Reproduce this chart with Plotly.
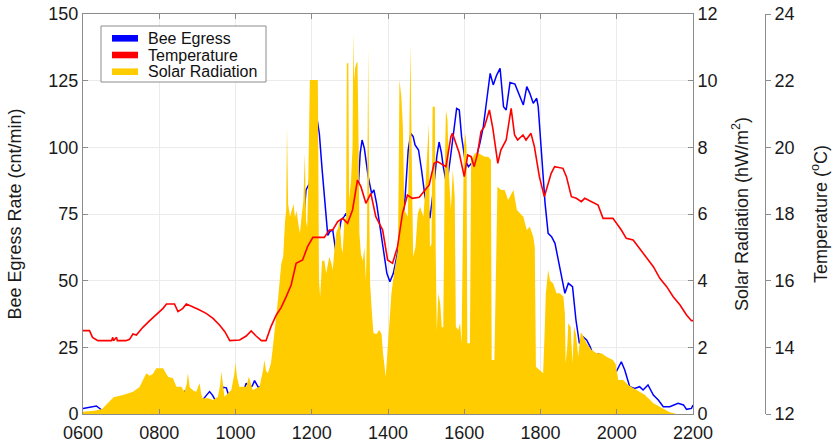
import plotly.graph_objects as go

# ---- data (time in decimal hours) ----
bee_t = [6.00,6.17,6.35,6.52,6.61,6.70,6.79,6.96,7.10,7.22,7.31,7.49,7.60,7.75,7.92,8.01,8.19,8.27,8.40,8.53,
         8.62,8.71,8.80,8.88,8.97,9.02,9.10,9.23,9.32,9.40,9.50,9.60,9.67,9.76,9.85,10.02,10.12,10.20,10.28,10.37,
         10.44,10.50,10.60,10.67,10.80,10.93,11.02,11.12,11.20,11.27,11.33,11.40,11.46,11.52,11.59,11.68,11.76,11.80,11.85,11.94,
         12.03,12.11,12.20,12.27,12.33,12.42,12.48,12.55,12.64,12.70,12.77,12.85,12.90,13.00,13.07,13.12,13.18,13.27,13.32,13.38,
         13.48,13.57,13.63,13.70,13.79,13.88,13.97,14.05,14.14,14.23,14.36,14.45,14.53,14.60,14.66,14.71,14.80,14.88,14.97,15.06,
         15.10,15.19,15.28,15.34,15.40,15.45,15.54,15.63,15.71,15.80,15.87,15.93,16.02,16.11,16.19,16.28,16.41,16.50,16.59,16.68,
         16.76,16.85,16.94,17.03,17.10,17.20,17.33,17.46,17.55,17.64,17.72,17.81,17.90,17.94,18.03,18.12,18.20,18.29,18.38,18.47,
         18.56,18.64,18.73,18.84,18.93,19.02,19.11,19.21,19.30,19.43,19.52,19.65,19.77,19.90,19.99,20.12,20.21,20.34,20.47,20.60,
         20.69,20.82,20.96,21.09,21.22,21.39,21.61,21.75,21.83,21.96,22.00]
bee_v = [2.1,2.6,3.0,1.2,1.0,2.5,4.0,2.5,3.5,4.4,5.2,3.9,4.5,5.4,5.9,5.4,4.4,4.0,5.0,6.0,
         8.0,9.0,8.0,7.5,7.0,3.5,4.5,6.9,8.4,7.0,4.4,7.0,10.0,9.8,5.6,5.6,6.5,8.1,11.5,10.0,
         10.5,12.5,10.0,10.25,13.4,13.0,13.4,11.5,10.9,15.0,24.0,28.0,34.0,45.0,56.5,57.0,65.0,75.0,84.0,86.5,
         105.0,113.4,105.0,92.0,82.75,67.0,68.5,69.0,60.0,67.0,72.75,74.0,75.25,71.5,62.0,68.0,75.0,97.75,102.75,99.6,
         89.0,82.75,84.0,79.0,70.25,60.25,52.75,49.6,52.75,59.0,69.0,81.5,99.0,105.25,104.0,100.9,99.0,91.5,81.5,76.5,
         73.4,84.0,96.5,102.0,98.0,92.75,86.0,95.25,104.0,114.6,114.0,104.0,95.25,92.75,94.0,94.6,101.5,107.75,117.75,127.75,
         123.4,127.1,129.6,115.25,114.0,124.3,123.7,119.0,115.9,122.75,120.25,116.5,118.4,115.25,96.5,79.0,67.75,66.5,64.0,57.75,
         51.5,45.25,49.0,47.75,35.25,26.5,29.0,27.75,25.25,20.25,22.75,17.5,15.9,17.1,15.9,19.6,16.5,10.25,9.6,10.25,
         9.0,10.9,7.1,5.25,2.75,2.75,4.0,3.4,1.75,2.1,3.4]

temp_t = [6.00,6.17,6.25,6.39,6.75,6.78,6.80,6.88,6.90,7.13,7.22,7.31,7.40,7.57,7.75,7.92,8.10,8.19,8.40,8.49,
          8.53,8.62,8.71,8.88,9.02,9.23,9.41,9.58,9.72,9.85,10.11,10.28,10.41,10.54,10.68,10.80,10.93,11.07,11.20,11.33,
          11.46,11.59,11.76,11.89,12.03,12.33,12.46,12.55,12.68,12.81,12.94,13.07,13.20,13.29,13.42,13.55,13.68,13.86,13.99,14.12,
          14.25,14.38,14.51,14.64,14.82,15.08,15.21,15.30,15.43,15.52,15.65,15.69,15.78,15.87,16.00,16.09,16.18,16.26,16.35,16.44,
          16.53,16.66,16.75,16.88,16.96,17.10,17.23,17.32,17.40,17.54,17.62,17.75,17.84,17.97,18.10,18.19,18.28,18.37,18.59,18.68,
          18.81,18.94,19.07,19.16,19.33,19.51,19.64,19.90,20.12,20.25,20.43,20.60,20.78,20.96,21.13,21.31,21.48,21.66,21.83,21.96,22.00]
temp_v = [14.5,14.5,14.3,14.2,14.2,14.3,14.2,14.3,14.2,14.2,14.24,14.4,14.37,14.6,14.8,14.97,15.17,15.3,15.3,15.07,
          15.1,15.17,15.3,15.2,15.14,15.02,14.87,14.67,14.47,14.2,14.22,14.34,14.49,14.34,14.2,14.2,14.62,14.97,15.2,15.52,
          15.87,16.52,16.62,17.02,17.3,17.3,17.52,17.52,17.77,17.87,17.72,18.12,19.02,18.82,18.32,18.62,17.92,17.52,16.62,16.52,
          17.02,18.02,18.57,18.47,18.5,18.87,19.52,19.57,19.47,19.42,20.32,20.42,20.12,19.82,19.12,19.77,19.72,19.42,19.82,20.47,
          20.62,21.12,20.57,19.52,19.92,20.22,21.17,20.37,20.22,20.37,20.22,20.42,20.02,19.12,18.52,18.87,19.22,19.42,19.37,19.12,
          18.52,18.47,18.37,18.47,18.37,18.27,17.87,17.87,17.52,17.27,17.22,16.97,16.72,16.42,16.07,15.82,15.52,15.27,14.97,14.8,14.8]

solar_t = [6.00,6.30,6.50,6.70,6.80,7.05,7.31,7.48,7.60,7.66,7.75,7.83,7.92,8.10,8.23,8.36,8.45,8.58,8.66,8.72,
           8.75,8.80,8.90,8.97,9.03,9.06,9.10,9.14,9.28,9.41,9.54,9.60,9.63,9.67,9.71,9.89,9.97,10.00,10.04,10.10,
           10.28,10.35,10.40,10.45,10.63,10.72,10.76,10.80,10.85,10.93,10.98,11.02,11.08,11.12,11.20,11.25,11.30,11.33,11.35,11.38,
           11.43,11.48,11.52,11.56,11.60,11.65,11.69,11.74,11.78,11.82,11.85,11.88,11.91,11.95,12.16,12.19,12.22,12.27,12.33,12.38,
           12.46,12.52,12.55,12.60,12.64,12.70,12.73,12.78,12.81,12.86,12.90,12.92,12.96,12.98,13.03,13.07,13.09,13.11,13.14,13.17,
           13.20,13.23,13.25,13.29,13.34,13.38,13.42,13.45,13.48,13.51,13.53,13.58,13.62,13.70,13.77,13.83,13.87,13.94,14.00,14.05,
           14.09,14.17,14.26,14.28,14.30,14.35,14.39,14.43,14.52,14.56,14.59,14.62,14.66,14.72,14.78,14.84,14.93,14.99,15.04,15.07,
           15.10,15.14,15.17,15.23,15.25,15.28,15.32,15.37,15.41,15.45,15.49,15.52,15.56,15.60,15.65,15.70,15.75,15.78,15.84,15.89,
           15.93,15.96,15.99,16.03,16.06,16.08,16.15,16.18,16.28,16.37,16.46,16.54,16.63,16.70,16.72,16.79,16.83,16.87,16.97,17.06,
           17.15,17.20,17.29,17.38,17.46,17.55,17.64,17.72,17.81,17.85,17.88,17.99,18.07,18.11,18.14,18.20,18.25,18.33,18.42,18.51,
           18.60,18.64,18.66,18.70,18.73,18.79,18.84,18.88,18.93,18.99,19.05,19.08,19.21,19.34,19.47,19.60,19.73,19.90,19.97,20.04,
           20.17,20.30,20.52,20.74,20.96,21.18,21.39,21.57,22.00]
solar_v = [0.07,0.10,0.15,0.40,0.50,0.57,0.67,0.80,1.10,1.22,1.15,1.20,1.37,1.37,1.12,1.07,0.82,0.82,0.67,0.90,
           1.22,0.80,0.70,0.67,0.85,0.92,0.60,0.47,0.47,0.42,0.52,0.90,1.27,0.80,0.52,0.72,1.20,1.54,1.10,0.82,
           0.82,1.12,0.90,0.72,0.82,1.30,1.62,1.30,1.22,1.52,2.00,2.42,3.00,3.50,4.50,4.72,5.80,6.12,8.62,6.30,
           5.92,6.12,6.30,5.90,6.10,5.70,5.42,6.00,6.40,7.82,5.80,5.60,7.00,10.02,10.02,4.00,3.52,4.60,4.60,4.22,
           4.72,4.50,4.32,5.00,5.42,5.62,5.82,5.00,4.82,5.90,5.82,10.52,10.52,6.42,7.02,8.00,11.42,10.00,10.40,10.52,
           10.57,8.00,5.42,4.80,4.60,5.00,4.00,5.40,10.97,6.00,3.92,3.00,2.42,2.40,2.52,2.40,1.82,1.12,2.12,3.00,
           3.62,4.32,4.92,7.00,10.02,9.52,8.62,6.12,5.92,8.50,11.07,8.00,4.72,5.00,6.00,6.22,5.92,7.00,8.00,8.72,
           5.00,5.10,9.22,9.22,5.00,2.50,3.62,3.30,2.60,2.60,7.50,9.12,8.82,7.12,6.12,7.32,6.52,2.62,2.52,2.72,
           2.12,6.12,8.00,8.42,8.00,2.12,2.12,7.62,7.82,7.82,7.77,7.72,7.72,7.62,1.62,1.62,4.12,6.82,6.72,6.72,
           6.42,6.52,6.72,6.12,6.02,5.92,5.52,5.62,5.32,5.00,1.42,1.32,1.22,2.50,3.62,4.32,4.00,3.92,3.62,3.62,
           3.52,3.00,1.52,2.00,2.72,2.62,1.52,2.62,2.40,1.72,2.42,2.42,2.12,1.92,1.82,1.82,1.72,1.62,1.50,1.02,
           1.02,0.87,0.72,0.57,0.32,0.17,0.05,0.0,0.0]

x_ticks = [6, 8, 10, 12, 14, 16, 18, 20, 22]
x_labels = ["0600", "0800", "1000", "1200", "1400", "1600", "1800", "2000", "2200"]
legend_names = ["Bee Egress", "Temperature", "Solar Radiation"]

BLUE = "rgb(0,0,255)"
RED = "rgb(255,0,0)"
GOLD = "rgb(255,204,0)"
AXC = "#8c8c8c"
FONT = "Liberation Sans, Arial, sans-serif"
legend_colors = [BLUE, RED, GOLD]

W, H = 840, 443
ML, MR, MT, MB = 83, 60, 14, 29
PW = W - ML - MR
PH = H - MT - MB


def px(xp):
    return (xp - ML) / PW


def py(yp):
    return (H - MB - yp) / PH


fig = go.Figure()
fig.add_trace(go.Scatter(x=solar_t, y=solar_v, yaxis="y2", mode="lines", fill="tozeroy",
                         fillcolor=GOLD, line=dict(width=0, color=GOLD), name="Solar Radiation",
                         showlegend=False))
fig.add_trace(go.Scatter(x=temp_t, y=temp_v, yaxis="y3", mode="lines", name="Temperature",
                         line=dict(color=RED, width=1.6), showlegend=False))
fig.add_trace(go.Scatter(x=bee_t, y=bee_v, yaxis="y", mode="lines", name="Bee Egress",
                         line=dict(color=BLUE, width=1.5), showlegend=False))

# legend box (drawn in paper space to match the compact reference legend)
shapes = [dict(type="rect", xref="paper", yref="paper", x0=px(101), x1=px(266), y0=py(82), y1=py(26),
               line=dict(color=AXC, width=1), fillcolor="white", layer="above")]
annotations = []
for i, (nm, col) in enumerate(zip(legend_names, legend_colors)):
    cy = 38.3 + i * 16.7
    shapes.append(dict(type="rect", xref="paper", yref="paper", x0=px(112), x1=px(138),
                       y0=py(cy + 3.3), y1=py(cy - 3.3), line=dict(width=0), fillcolor=col, layer="above"))
    annotations.append(dict(xref="paper", yref="paper", x=px(146), y=py(cy), xanchor="left", yanchor="middle",
                            text=nm, showarrow=False, font=dict(size=16, color="#111111", family=FONT)))

d_end = (693 - ML) / PW
fig.update_layout(
    width=W, height=H,
    margin=dict(l=ML, r=MR, t=MT, b=MB, pad=0),
    template="none",
    paper_bgcolor="white", plot_bgcolor="white",
    font=dict(family=FONT, size=18, color="#1a1a1a"),
    showlegend=False,
    shapes=shapes, annotations=annotations,
    xaxis=dict(domain=[0, d_end], range=[6, 22], tickvals=x_ticks, ticktext=x_labels,
               showgrid=True, gridcolor="#ebebeb", zeroline=False,
               showline=True, linecolor=AXC, mirror="ticks", ticks="inside", ticklen=5,
               tickcolor=AXC, tickfont=dict(size=18), ticklabelstandoff=2),
    yaxis=dict(range=[0, 150], tickvals=[0, 25, 50, 75, 100, 125, 150],
               showgrid=True, gridcolor="#ebebeb", zeroline=False,
               showline=True, linecolor=AXC, ticks="inside", ticklen=5, tickcolor=AXC,
               tickfont=dict(size=18),
               title=dict(text="Bee Egress Rate (cnt/min)", font=dict(size=18), standoff=22)),
    yaxis2=dict(range=[0, 12], tickvals=[0, 2, 4, 6, 8, 10, 12], overlaying="y", side="right",
                anchor="x", showgrid=False, zeroline=False,
                showline=True, linecolor=AXC, ticks="inside", ticklen=5, tickcolor=AXC,
                tickfont=dict(size=18),
                title=dict(text="Solar Radiation (hW/m<sup>2</sup>)", font=dict(size=18), standoff=18)),
    yaxis3=dict(range=[12, 24], tickvals=[12, 14, 16, 18, 20, 22, 24], overlaying="y", side="right",
                anchor="free", position=(765 - ML) / PW, showgrid=False, zeroline=False,
                showline=True, linecolor=AXC, ticks="outside", ticklen=5, tickcolor=AXC,
                tickfont=dict(size=18),
                title=dict(text="Temperature (<sup>o</sup>C)", font=dict(size=18), standoff=20)),
)

fig.write_html("out.html", config={"displayModeBar": False},
               post_script="document.body.style.margin='0';document.body.style.overflow='hidden';")
